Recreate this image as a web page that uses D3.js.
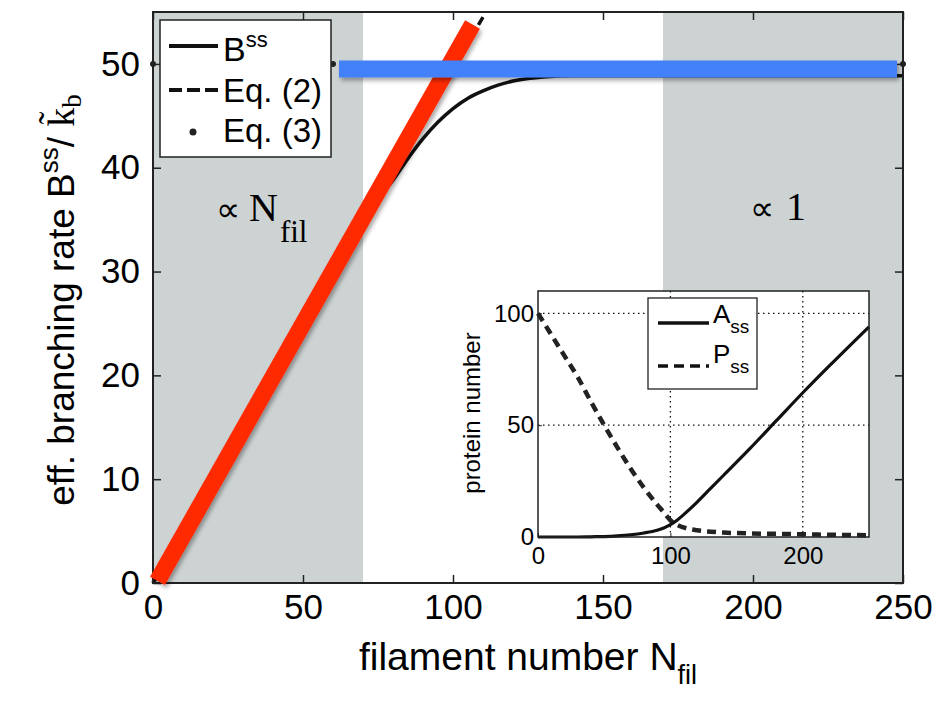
<!DOCTYPE html>
<html>
<head>
<meta charset="utf-8">
<script src="https://cdn.jsdelivr.net/npm/d3@7"></script>
<style>
  body { margin: 0; background: #fff; }
  svg text { font-family: "Liberation Sans", Arial, sans-serif; fill: #000; }
  .serif { font-family: "Liberation Serif", "Times New Roman", serif; }
</style>
</head>
<body>
<svg id="chart" width="947" height="706"></svg>
<script>
// main panel data
var bN   = [0, 10, 20, 30, 40, 50, 60, 70, 75, 80, 85, 90, 95, 100, 105, 110, 115, 120, 125, 130, 140, 160, 200, 250];
var bVal = [0, 5, 10, 15, 20, 25, 30, 34.8, 37, 38.8, 40.9, 42.8, 44.4, 45.7, 46.7, 47.4, 47.95, 48.35, 48.6, 48.75, 48.85, 48.85, 48.85, 48.85];
var eq2N   = [0, 110];
var eq2Val = [0, 54.5];
var eq3N   = [0, 5, 10, 15, 20, 25, 30, 35, 40, 45, 50, 55, 60, 65, 70, 75, 80, 85, 90, 95, 100, 105, 110, 115, 120, 125,
              130, 135, 140, 145, 150, 155, 160, 165, 170, 175, 180, 185, 190, 195, 200, 205, 210, 215, 220, 225, 230, 235, 240, 245, 250];
var eq3Val = 50;
var shadeBands = [[0, 70], [170, 250]];
var redLineN = [1.5, 106.5], redLineVal = [0.2, 53.8];
var blueBarN = [62, 248], blueBarVal = 49.5;
var xTicks = [0, 50, 100, 150, 200, 250];
var yTicks = [0, 10, 20, 30, 40, 50];

// inset data
var insN = [0, 10, 20, 30, 40, 50, 60, 70, 80, 90, 95, 100, 105, 110, 120, 130, 140, 160, 180, 200, 220, 250];
var aSS  = [0, 0, 0, 0, 0.1, 0.2, 0.5, 1, 1.8, 3, 4, 5.5, 7.5, 10, 15.5, 21.5, 27.5, 39.5, 52, 64.5, 76.5, 94];
var pSS  = [100, 90.5, 81, 71.5, 60.5, 50, 40, 30.5, 22, 14.5, 11, 7.5, 5.5, 4.3, 3, 2.4, 2, 1.6, 1.4, 1.2, 1.0, 0.8];
var insXTicks = [0, 100, 200];
var insYTicks = [0, 50, 100];

var svg = d3.select('#chart');
var M = {L: 153, R: 903, T: 12, B: 583};

var x = d3.scaleLinear().domain([0, 250]).range([M.L, M.R]);
var y = d3.scaleLinear().domain([0, 55]).range([M.B, M.T]);

var defs = svg.append('defs');
var f = defs.append('filter').attr('id', 'shadow')
  .attr('filterUnits', 'userSpaceOnUse')
  .attr('x', 0).attr('y', 0).attr('width', 947).attr('height', 706);
f.append('feDropShadow').attr('dx', 2).attr('dy', 3).attr('stdDeviation', 2)
  .attr('flood-color', '#000').attr('flood-opacity', 0.35);

// gray bands
svg.append('g').selectAll('rect').data(shadeBands).enter().append('rect')
  .attr('x', function(d) { return x(d[0]); })
  .attr('width', function(d) { return x(d[1]) - x(d[0]); })
  .attr('y', M.T).attr('height', M.B - M.T)
  .attr('fill', '#cdd3d3');

// curves
var line = d3.line()
  .x(function(d) { return x(d[0]); })
  .y(function(d) { return y(d[1]); })
  .curve(d3.curveMonotoneX);

svg.append('path')
  .attr('d', line(d3.zip(eq2N, eq2Val)))
  .attr('fill', 'none').attr('stroke', '#111').attr('stroke-width', 3.5)
  .attr('stroke-dasharray', '12,7');

svg.append('path')
  .attr('d', line(d3.zip(bN, bVal)))
  .attr('fill', 'none').attr('stroke', '#111').attr('stroke-width', 3.5);

svg.append('g').selectAll('circle').data(eq3N).enter().append('circle')
  .attr('cx', function(d) { return x(d); })
  .attr('cy', y(eq3Val))
  .attr('r', 3)
  .attr('fill', '#222');

// axes, MATLAB style box with inward ticks
function mainAxes() {
  var g = svg.append('g');
  g.append('g').attr('transform', 'translate(0,' + M.B + ')')
    .call(d3.axisBottom(x).tickValues(xTicks).tickSizeInner(-8).tickSizeOuter(0).tickPadding(11));
  g.append('g').attr('transform', 'translate(0,' + M.T + ')')
    .call(d3.axisTop(x).tickValues(xTicks).tickSizeInner(-8).tickSizeOuter(0).tickFormat(''));
  g.append('g').attr('transform', 'translate(' + M.L + ',0)')
    .call(d3.axisLeft(y).tickValues(yTicks).tickSizeInner(-8).tickSizeOuter(0).tickPadding(13));
  g.append('g').attr('transform', 'translate(' + M.R + ',0)')
    .call(d3.axisRight(y).tickValues(yTicks).tickSizeInner(-8).tickSizeOuter(0).tickFormat(''));
  g.selectAll('.domain').remove();
  g.selectAll('.tick line').attr('stroke', '#222').attr('stroke-width', 1.5);
  g.selectAll('.tick text').attr('font-size', 35).attr('font-family', '"Liberation Sans", Arial, sans-serif');
  g.append('rect').attr('x', M.L).attr('y', M.T)
    .attr('width', M.R - M.L).attr('height', M.B - M.T)
    .attr('fill', 'none').attr('stroke', '#222').attr('stroke-width', 2);
}
mainAxes();

// axis labels
var xl = svg.append('text').attr('x', 528).attr('y', 670).attr('text-anchor', 'middle').attr('font-size', 39);
xl.append('tspan').text('filament number N');
xl.append('tspan').attr('dy', 14).attr('font-size', 27).text('fil');

var yl = svg.append('text').attr('transform', 'translate(74,300) rotate(-90)')
  .attr('text-anchor', 'middle').attr('font-size', 37);
yl.append('tspan').text('eff. branching rate B');
yl.append('tspan').attr('dy', -16).attr('font-size', 26).text('ss');
yl.append('tspan').attr('dy', 16).text('/ ');
yl.append('tspan').attr('class', 'serif').attr('font-size', 38).text('k\u0303');
yl.append('tspan').attr('class', 'serif').attr('dy', 7).attr('font-size', 27).text('b');

// regime annotations
var a1 = svg.append('text').attr('class', 'serif').attr('x', 216).attr('y', 221);
a1.append('tspan').attr('font-size', 34).text('\u221d');
a1.append('tspan').attr('dx', 9).attr('font-size', 40).text('N');
a1.append('tspan').attr('dy', 21).attr('dx', 2).attr('font-size', 31).text('fil');
var a2 = svg.append('text').attr('class', 'serif').attr('x', 750).attr('y', 220);
a2.append('tspan').attr('font-size', 34).text('\u221d');
a2.append('tspan').attr('dx', 12).attr('font-size', 40).text('1');

// main legend
var lg = svg.append('g');
lg.append('rect').attr('x', 160).attr('y', 20).attr('width', 171).attr('height', 137)
  .attr('fill', '#fff').attr('stroke', '#222').attr('stroke-width', 1.5);
lg.append('line').attr('x1', 169).attr('x2', 218).attr('y1', 46).attr('y2', 46)
  .attr('stroke', '#111').attr('stroke-width', 4);
lg.append('line').attr('x1', 169).attr('x2', 218).attr('y1', 90).attr('y2', 90)
  .attr('stroke', '#111').attr('stroke-width', 4).attr('stroke-dasharray', '13,5');
lg.append('circle').attr('cx', 193).attr('cy', 132).attr('r', 3.5).attr('fill', '#222');
var t1 = lg.append('text').attr('x', 223).attr('y', 61).attr('font-size', 34);
t1.append('tspan').text('B');
t1.append('tspan').attr('dy', -14).attr('font-size', 22).text('ss');
lg.append('text').attr('x', 223).attr('y', 102).attr('font-size', 33).text('Eq. (2)');
lg.append('text').attr('x', 223).attr('y', 142).attr('font-size', 33).text('Eq. (3)');

// inset
var I = {L: 538, R: 869, T: 291, B: 537};
var ix = d3.scaleLinear().domain([0, 250]).range([I.L, I.R]);
var iy = d3.scaleLinear().domain([0, 110]).range([I.B, I.T]);
var ins = svg.append('g');
ins.append('rect').attr('x', I.L).attr('y', I.T).attr('width', I.R - I.L).attr('height', I.B - I.T)
  .attr('fill', '#fff');

ins.append('g').selectAll('line').data(insXTicks.slice(1)).enter().append('line')
  .attr('x1', function(d) { return ix(d); }).attr('x2', function(d) { return ix(d); })
  .attr('y1', I.T).attr('y2', I.B)
  .attr('stroke', '#111').attr('stroke-width', 1.3).attr('stroke-dasharray', '1.5,3.5');
ins.append('g').selectAll('line').data(insYTicks.slice(1)).enter().append('line')
  .attr('y1', function(d) { return iy(d); }).attr('y2', function(d) { return iy(d); })
  .attr('x1', I.L).attr('x2', I.R)
  .attr('stroke', '#111').attr('stroke-width', 1.3).attr('stroke-dasharray', '1.5,3.5');

var iline = d3.line()
  .x(function(d) { return ix(d[0]); })
  .y(function(d) { return iy(d[1]); })
  .curve(d3.curveMonotoneX);
ins.append('path').attr('d', iline(d3.zip(insN, pSS)))
  .attr('fill', 'none').attr('stroke', '#222').attr('stroke-width', 4.5).attr('stroke-dasharray', '9,6');
ins.append('path').attr('d', iline(d3.zip(insN, aSS)))
  .attr('fill', 'none').attr('stroke', '#111').attr('stroke-width', 3.2);

var ia = ins.append('g');
ia.append('g').attr('transform', 'translate(0,' + I.B + ')')
  .call(d3.axisBottom(ix).tickValues(insXTicks).tickSizeInner(-4).tickSizeOuter(0).tickPadding(10));
ia.append('g').attr('transform', 'translate(' + I.L + ',0)')
  .call(d3.axisLeft(iy).tickValues(insYTicks).tickSizeInner(-4).tickSizeOuter(0).tickPadding(4));
ia.selectAll('.domain').remove();
ia.selectAll('.tick line').attr('stroke', '#222');
ia.selectAll('.tick text').attr('font-size', 24).attr('font-family', '"Liberation Sans", Arial, sans-serif');
ins.append('rect').attr('x', I.L).attr('y', I.T).attr('width', I.R - I.L).attr('height', I.B - I.T)
  .attr('fill', 'none').attr('stroke', '#222').attr('stroke-width', 1.5);
ins.append('text').attr('transform', 'translate(480,413) rotate(-90)')
  .attr('text-anchor', 'middle').attr('font-size', 24).text('protein number');

// inset legend
var il = ins.append('g');
il.append('rect').attr('x', 648).attr('y', 298).attr('width', 109).attr('height', 91)
  .attr('fill', '#fff').attr('stroke', '#222').attr('stroke-width', 1.3);
il.append('line').attr('x1', 658).attr('x2', 709).attr('y1', 323).attr('y2', 323)
  .attr('stroke', '#111').attr('stroke-width', 3.5);
il.append('line').attr('x1', 658).attr('x2', 709).attr('y1', 366).attr('y2', 366)
  .attr('stroke', '#111').attr('stroke-width', 3.5).attr('stroke-dasharray', '10,6');
var ta = il.append('text').attr('x', 713).attr('y', 323).attr('font-size', 26);
ta.append('tspan').text('A');
ta.append('tspan').attr('dy', 10).attr('font-size', 19).text('ss');
var tp = il.append('text').attr('x', 713).attr('y', 363).attr('font-size', 26);
tp.append('tspan').text('P');
tp.append('tspan').attr('dy', 10).attr('font-size', 19).text('ss');

// highlight overlays: red slope, blue plateau
svg.append('line')
  .attr('x1', x(redLineN[0])).attr('y1', y(redLineVal[0]))
  .attr('x2', x(redLineN[1])).attr('y2', y(redLineVal[1]))
  .attr('stroke', '#ff2a00').attr('stroke-width', 17)
  .attr('filter', 'url(#shadow)');
svg.append('line')
  .attr('x1', x(blueBarN[0])).attr('y1', y(blueBarVal))
  .attr('x2', x(blueBarN[1])).attr('y2', y(blueBarVal))
  .attr('stroke', '#4281fa').attr('stroke-width', 17)
  .attr('filter', 'url(#shadow)');
</script>
</body>
</html>
